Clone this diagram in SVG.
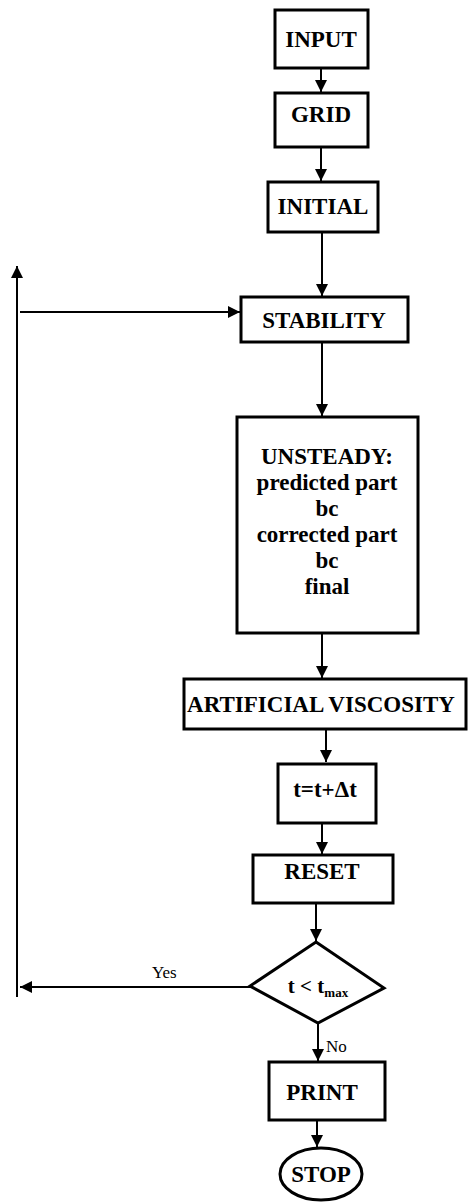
<svg xmlns="http://www.w3.org/2000/svg" width="468" height="1203" viewBox="0 0 468 1203">
<style>
.box{fill:#fff;stroke:#000;stroke-width:3}
.ln{fill:none;stroke:#000;stroke-width:2}
.t{font-family:"Liberation Serif","Times New Roman",serif;font-weight:bold;font-size:23px;text-anchor:middle;fill:#000}
.s{font-family:"Liberation Serif","Times New Roman",serif;font-weight:bold;font-size:21px;text-anchor:middle;fill:#000}
.lbl{font-family:"Liberation Serif","Times New Roman",serif;font-size:17px;fill:#000}
</style>
<defs>
<marker id="ah" viewBox="0 0 10 10" refX="10" refY="5" markerWidth="6" markerHeight="6" orient="auto" markerUnits="strokeWidth">
<path d="M0,0 L10,5 L0,10 Z" fill="#000"/>
</marker>
</defs>
<rect width="468" height="1203" fill="#fff"/>
<g id="connectors">
<line class="ln" x1="321" y1="68" x2="321" y2="92" marker-end="url(#ah)"/>
<line class="ln" x1="321" y1="147" x2="321" y2="181" marker-end="url(#ah)"/>
<line class="ln" x1="322" y1="232" x2="322" y2="296" marker-end="url(#ah)"/>
<line class="ln" x1="322" y1="342" x2="322" y2="416" marker-end="url(#ah)"/>
<line class="ln" x1="322" y1="633" x2="322" y2="678" marker-end="url(#ah)"/>
<line class="ln" x1="326" y1="729" x2="326" y2="762" marker-end="url(#ah)"/>
<line class="ln" x1="322" y1="823" x2="322" y2="854" marker-end="url(#ah)"/>
<line class="ln" x1="316" y1="903" x2="316" y2="941" marker-end="url(#ah)"/>
<line class="ln" x1="318" y1="1023" x2="318" y2="1061" marker-end="url(#ah)"/>
<line class="ln" x1="317" y1="1120" x2="317" y2="1147" marker-end="url(#ah)"/>
<line class="ln" x1="250" y1="987" x2="20" y2="987" marker-end="url(#ah)"/>
<line class="ln" x1="17" y1="997" x2="17" y2="266" marker-end="url(#ah)"/>
<line class="ln" x1="20" y1="312" x2="240" y2="312" marker-end="url(#ah)"/>
<text class="lbl" x="152" y="978">Yes</text>
<text class="lbl" x="326" y="1052">No</text>
</g>
<g id="input"><rect class="box" x="275" y="10" width="93" height="58"/><text class="t" x="321" y="47">INPUT</text></g>
<g id="grid"><rect class="box" x="275" y="93" width="93" height="54"/><text class="t" x="321" y="122">GRID</text></g>
<g id="initial"><rect class="box" x="268" y="182" width="110" height="50"/><text class="t" x="323" y="214">INITIAL</text></g>
<g id="stability"><rect class="box" x="241" y="297" width="167" height="45"/><text class="t" x="324" y="328">STABILITY</text></g>
<g id="unsteady"><rect class="box" x="237" y="417" width="181" height="216"/>
<text class="t" x="327" y="464">UNSTEADY:</text>
<text class="t" x="327" y="490">predicted part</text>
<text class="t" x="327" y="516">bc</text>
<text class="t" x="327" y="542">corrected part</text>
<text class="t" x="327" y="568">bc</text>
<text class="t" x="327" y="594">final</text>
</g>
<g id="artificial"><rect class="box" x="184" y="679" width="282" height="50"/><text class="t" x="321" y="712">ARTIFICIAL VISCOSITY</text></g>
<g id="timestep"><rect class="box" x="278" y="764" width="98" height="59"/><text class="t" x="325" y="797">t=t+Δt</text></g>
<g id="reset"><rect class="box" x="253" y="855" width="140" height="48"/><text class="t" x="322" y="879">RESET</text></g>
<g id="decision"><polygon class="box" points="316,942 384,988 318,1023 250,986"/><text class="s" x="318" y="993">t &lt; t<tspan font-size="13" dy="4">max</tspan></text></g>
<g id="print"><rect class="box" x="269" y="1062" width="116" height="58"/><text class="t" x="322" y="1100">PRINT</text></g>
<g id="stop"><ellipse class="box" cx="321" cy="1174" rx="41" ry="26"/><text class="t" x="321" y="1182">STOP</text></g>
</svg>
